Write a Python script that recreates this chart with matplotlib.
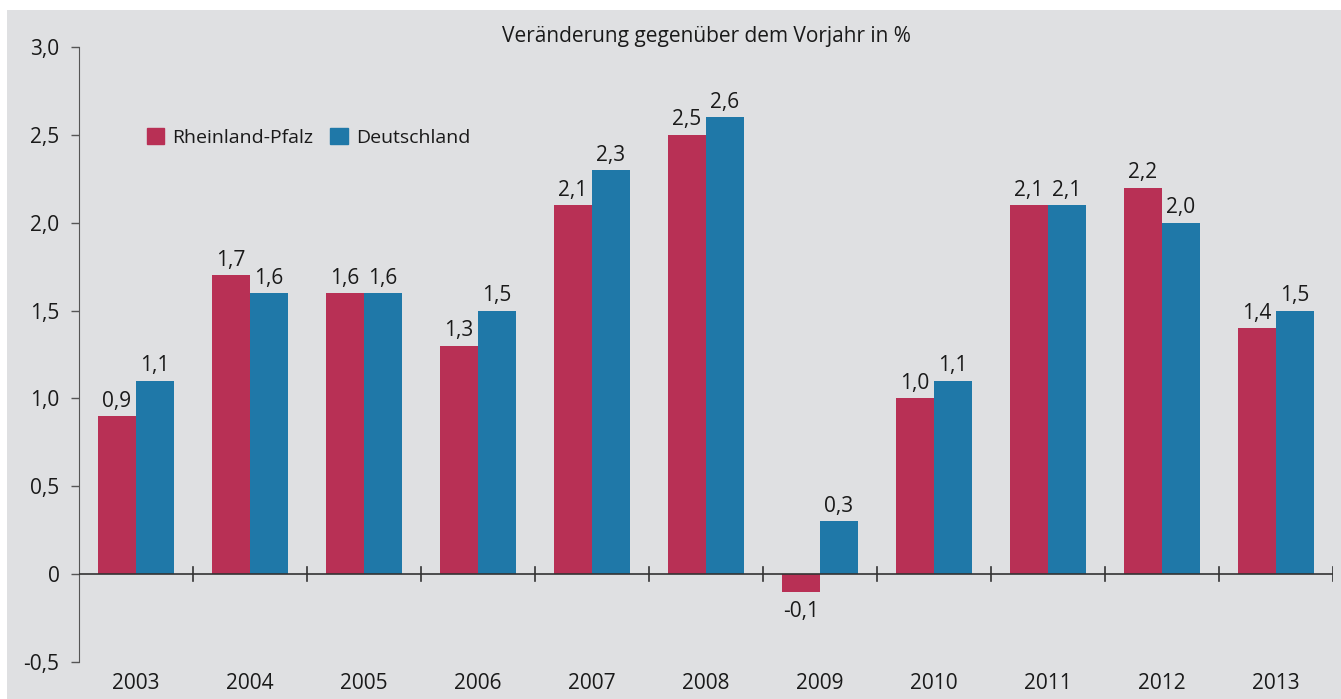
import numpy as np
import matplotlib.pyplot as plt
from matplotlib.patches import Rectangle, Patch

years = ["2003", "2004", "2005", "2006", "2007", "2008", "2009", "2010", "2011", "2012", "2013"]
rlp = [0.9, 1.7, 1.6, 1.3, 2.1, 2.5, -0.1, 1.0, 2.1, 2.2, 1.4]
de = [1.1, 1.6, 1.6, 1.5, 2.3, 2.6, 0.3, 1.1, 2.1, 2.0, 1.5]
series_names = ["Rheinland-Pfalz", "Deutschland"]

RED = "#b83055"
BLUE = "#1f78a8"
BG = "#dfe0e2"
TXT = "#1a1a1a"
FS = 15

plt.rcParams["font.family"] = ["Open Sans", "DejaVu Sans"]

fig = plt.figure(figsize=(13.41, 6.99), dpi=100)
fig.patch.set_facecolor("white")
fig.patches.append(Rectangle((7 / 1341, 0), 1, 1 - 10 / 699, transform=fig.transFigure,
                             facecolor=BG, edgecolor="none", zorder=-10))
ax = fig.add_axes([79 / 1341, 1 - 662 / 699, 1254 / 1341, 615 / 699])
ax.set_facecolor("none")

x = np.arange(len(years))
w = 1 / 3
ax.bar(x - w / 2, rlp, w, color=RED, zorder=2)
ax.bar(x + w / 2, de, w, color=BLUE, zorder=2)

def fmt(v):
    return f"{v:.1f}".replace(".", ",")

for xs, vals in [(x - w / 2, rlp), (x + w / 2, de)]:
    for xi, v in zip(xs, vals):
        ax.text(xi, v + (0.025 if v >= 0 else -0.05), fmt(v), ha="center",
                va="bottom" if v >= 0 else "top", fontsize=FS, color=TXT)

ax.set_xlim(-0.5, len(years) - 0.5)
ax.set_ylim(-0.5, 3.0)

# y axis
yt = np.arange(-0.5, 3.01, 0.5)
ax.set_yticks(yt)
ax.set_yticklabels(["0" if abs(t) < 1e-9 else fmt(t) for t in yt], fontsize=FS, color=TXT)
ax.tick_params(axis="y", length=6, width=1, color="#555555", pad=8)
for s in ["top", "right", "bottom"]:
    ax.spines[s].set_visible(False)
ax.spines["left"].set_color("#555555")

# x axis line at zero with boundary ticks
ax.axhline(0, color="#333333", linewidth=1.2, zorder=3)
for b in np.arange(0.5, len(years), 1.0):
    ax.plot([b, b], [-0.04, 0.04], color="#333333", linewidth=1.2, zorder=3)
ax.set_xticks([])
for xi, yr in zip(x, years):
    ax.text(xi, -0.56, yr, ha="center", va="top", fontsize=FS, color=TXT)

ax.set_title("Veränderung gegenüber dem Vorjahr in %", fontsize=FS, color=TXT, pad=3)

handles = [Patch(color=RED), Patch(color=BLUE)]
ax.legend(handles, series_names, loc="center left", bbox_to_anchor=(0.04, 0.853), ncol=2,
          frameon=False, fontsize=14, handlelength=0.9, handleheight=0.9,
          handletextpad=0.4, columnspacing=0.9, labelcolor=TXT)

fig.savefig("out.png", dpi=100, facecolor=fig.get_facecolor())
